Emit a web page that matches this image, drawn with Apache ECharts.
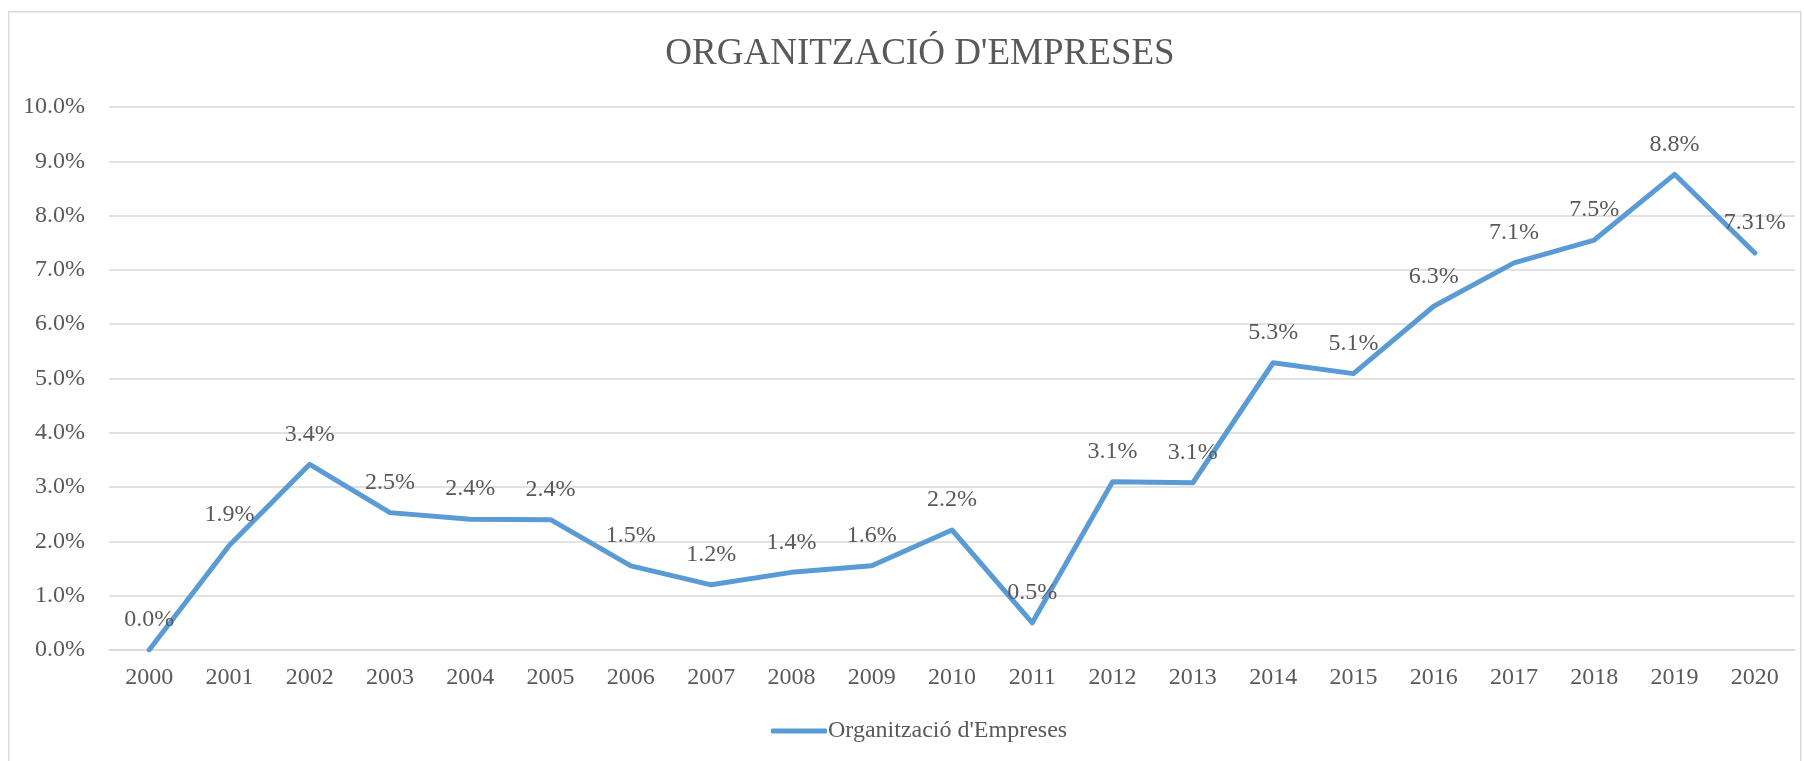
<!DOCTYPE html>
<html>
<head>
<meta charset="utf-8">
<script src="https://cdn.jsdelivr.net/npm/echarts@6/dist/echarts.min.js"></script>
<style>
html,body{margin:0;padding:0;background:#fff;}
#chart{width:1804px;height:761px;}
</style>
</head>
<body>
<div id="chart"></div>
<script>
var categories = ['2000','2001','2002','2003','2004','2005','2006','2007','2008','2009','2010','2011','2012','2013','2014','2015','2016','2017','2018','2019','2020'];
var values = [0.0, 1.93, 3.42, 2.53, 2.41, 2.40, 1.55, 1.20, 1.43, 1.55, 2.21, 0.50, 3.10, 3.08, 5.29, 5.09, 6.33, 7.13, 7.55, 8.76, 7.31];
var labelTexts = ['0.0%','1.9%','3.4%','2.5%','2.4%','2.4%','1.5%','1.2%','1.4%','1.6%','2.2%','0.5%','3.1%','3.1%','5.3%','5.1%','6.3%','7.1%','7.5%','8.8%','7.31%'];
var yTicks = [0,1,2,3,4,5,6,7,8,9,10];
var seriesName = "Organització d'Empreses";
var titleText = "ORGANITZACIÓ D'EMPRESES";

var FONT = '"Liberation Serif", "Times New Roman", serif';
var TXT = '#595959';
var chart = echarts.init(document.getElementById('chart'), null, {renderer: 'canvas'});
chart.setOption({
  animation: false,
  backgroundColor: '#fff',
  graphic: [{
    type: 'rect', left: 8, top: 11, z: -1,
    shape: {width: 1792, height: 780},
    style: {fill: '#fff', stroke: '#D9D9D9', lineWidth: 1.5}
  }],
  title: {
    text: titleText, left: 915, top: 31, textAlign: 'center',
    textStyle: {fontFamily: FONT, fontSize: 37, fontWeight: 'normal', color: TXT}
  },
  legend: {
    data: [seriesName], left: 766, top: 714,
    itemWidth: 56, itemHeight: 5, itemGap: 0,
    icon: 'roundRect',
    textStyle: {fontFamily: FONT, fontSize: 24, color: TXT, padding: [0,0,0,-4]}
  },
  grid: {left: 109, right: 9, top: 107, bottom: 111, containLabel: false},
  xAxis: {
    type: 'category', data: categories, boundaryGap: true,
    axisLine: {show: true, lineStyle: {color: '#D9D9D9', width: 1.5}},
    axisTick: {show: false},
    axisLabel: {fontFamily: FONT, fontSize: 24, color: TXT, margin: 16}
  },
  yAxis: {
    type: 'value', min: 0, max: 10, interval: 1,
    axisLine: {show: false}, axisTick: {show: false},
    splitLine: {lineStyle: {color: '#D9D9D9', width: 1.5}},
    axisLabel: {fontFamily: FONT, fontSize: 24, color: TXT, margin: 24,
      formatter: function(v){ return v.toFixed(1) + '%'; }}
  },
  series: [{
    name: seriesName, type: 'line', data: values,
    symbol: 'circle', symbolSize: 0.01, showSymbol: true,
    lineStyle: {color: '#5B9BD5', width: 5, cap: 'round', join: 'round'},
    itemStyle: {color: '#5B9BD5'},
    label: {
      show: true, position: 'top', distance: 18,
      fontFamily: FONT, fontSize: 24, color: TXT,
      formatter: function(p){ return labelTexts[p.dataIndex]; }
    },
    labelLayout: {hideOverlap: false}
  }]
});
</script>
</body>
</html>
